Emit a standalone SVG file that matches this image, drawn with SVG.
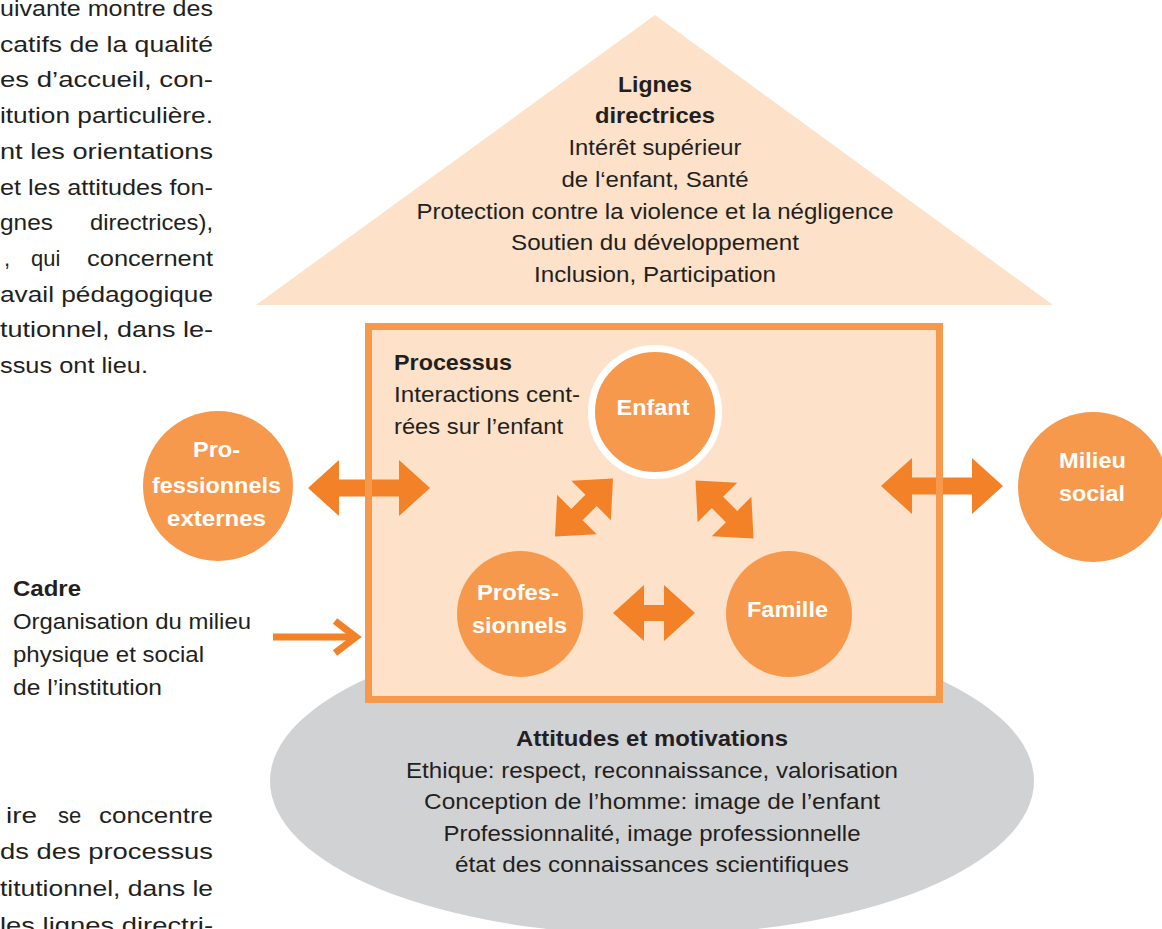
<svg xmlns="http://www.w3.org/2000/svg" width="1162" height="929" viewBox="0 0 1162 929">
  <style>
    .t { font-family: "Liberation Sans", Arial, sans-serif; font-size: 22px; fill: #231f20; }
    .b { font-weight: bold; }
    .m { text-anchor: middle; }
    .e { text-anchor: end; }
    .w { font-family: "Liberation Sans", Arial, sans-serif; font-size: 22px; font-weight: bold; fill: #ffffff; text-anchor: middle; }
    .node { fill: #f7994c; }
    .arr { fill: #f28127; }
  </style>
  <defs>
    <path id="arrLong" d="M-61,0 L-30,-28 L-30,-8.5 L30,-8.5 L30,-28 L61,0 L30,28 L30,8.5 L-30,8.5 L-30,28 Z"/>
    <path id="arrShort" d="M-41,0 L-10,-28 L-10,-8 L10,-8 L10,-28 L41,0 L10,28 L10,8 L-10,8 L-10,28 Z"/>
  </defs>
  <rect width="1162" height="929" fill="#ffffff"/>

  <!-- Left paragraph (top) -->
  <g id="para-top">
    <text class="t" x="0" y="16" textLength="213" lengthAdjust="spacingAndGlyphs">uivante montre des</text>
    <text class="t" x="0" y="51.7" textLength="213" lengthAdjust="spacingAndGlyphs">catifs de la qualité</text>
    <text class="t" x="0" y="87.4" textLength="213" lengthAdjust="spacingAndGlyphs">es d’accueil, con-</text>
    <text class="t" x="0" y="123" textLength="213" lengthAdjust="spacingAndGlyphs">itution particulière.</text>
    <text class="t" x="0" y="158.8" textLength="213" lengthAdjust="spacingAndGlyphs">nt les orientations</text>
    <text class="t" x="0" y="194.5" textLength="213" lengthAdjust="spacingAndGlyphs">et les attitudes fon-</text>
    <text class="t" x="0" y="230" textLength="53" lengthAdjust="spacingAndGlyphs">gnes</text>
    <text class="t" x="90" y="230" textLength="123" lengthAdjust="spacingAndGlyphs">directrices),</text>
    <text class="t" x="4" y="266">,</text>
    <text class="t" x="31" y="266">qui</text>
    <text class="t" x="87" y="266" textLength="126" lengthAdjust="spacingAndGlyphs">concernent</text>
    <text class="t" x="0" y="301.6" textLength="213" lengthAdjust="spacingAndGlyphs">avail pédagogique</text>
    <text class="t" x="0" y="337" textLength="213" lengthAdjust="spacingAndGlyphs">tutionnel, dans le-</text>
    <text class="t" x="0" y="373" textLength="148" lengthAdjust="spacingAndGlyphs">ssus ont lieu.</text>
  </g>

  <!-- Left paragraph (bottom) -->
  <g id="para-bottom">
    <text class="t" x="6" y="823" textLength="31" lengthAdjust="spacingAndGlyphs">ire</text>
    <text class="t" x="58" y="823">se</text>
    <text class="t" x="99" y="823" textLength="114" lengthAdjust="spacingAndGlyphs">concentre</text>
    <text class="t" x="0" y="859" textLength="213" lengthAdjust="spacingAndGlyphs">ds des processus</text>
    <text class="t" x="0" y="896" textLength="213" lengthAdjust="spacingAndGlyphs">titutionnel, dans le</text>
    <text class="t" x="0" y="933" textLength="213" lengthAdjust="spacingAndGlyphs">les lignes directri-</text>
  </g>

  <!-- Attitudes ellipse -->
  <g id="attitudes">
    <ellipse cx="652" cy="781" rx="382" ry="154" fill="#d1d2d4"/>
  </g>

  <!-- Lignes directrices triangle -->
  <g id="lignes-directrices">
    <polygon points="655,15 1053,305 256,305" fill="#fde1c8"/>
    <text class="t b m" x="655" y="91.5" textLength="74" lengthAdjust="spacingAndGlyphs">Lignes</text>
    <text class="t b m" x="655" y="123" textLength="120" lengthAdjust="spacingAndGlyphs">directrices</text>
    <text class="t m" x="655" y="155" textLength="173" lengthAdjust="spacingAndGlyphs">Intérêt supérieur</text>
    <text class="t m" x="655" y="187" textLength="187" lengthAdjust="spacingAndGlyphs">de l‘enfant, Santé</text>
    <text class="t m" x="655" y="218.5" textLength="477" lengthAdjust="spacingAndGlyphs">Protection contre la violence et la négligence</text>
    <text class="t m" x="655" y="250" textLength="288" lengthAdjust="spacingAndGlyphs">Soutien du développement</text>
    <text class="t m" x="655" y="281.5" textLength="242" lengthAdjust="spacingAndGlyphs">Inclusion, Participation</text>
  </g>

  <!-- Processus box fill -->
  <g id="processus">
    <rect x="368.5" y="326.5" width="571" height="373" fill="#fde1c8"/>
    <text class="t b" x="394" y="370" textLength="118" lengthAdjust="spacingAndGlyphs">Processus</text>
    <text class="t" x="394" y="402" textLength="186" lengthAdjust="spacingAndGlyphs">Interactions cent-</text>
    <text class="t" x="394" y="434" textLength="169" lengthAdjust="spacingAndGlyphs">rées sur l’enfant</text>
  </g>

  <!-- Attitudes text (over ellipse) -->
  <g id="attitudes-text">
    <text class="t b m" x="652" y="746" textLength="272" lengthAdjust="spacingAndGlyphs">Attitudes et motivations</text>
    <text class="t m" x="652" y="778" textLength="492" lengthAdjust="spacingAndGlyphs">Ethique: respect, reconnaissance, valorisation</text>
    <text class="t m" x="652" y="809" textLength="456" lengthAdjust="spacingAndGlyphs">Conception de l’homme: image de l’enfant</text>
    <text class="t m" x="652" y="841" textLength="417" lengthAdjust="spacingAndGlyphs">Professionnalité, image professionnelle</text>
    <text class="t m" x="652" y="872" textLength="394" lengthAdjust="spacingAndGlyphs">état des connaissances scientifiques</text>
  </g>

  <!-- Cadre -->
  <g id="cadre">
    <text class="t b" x="13" y="596" textLength="68" lengthAdjust="spacingAndGlyphs">Cadre</text>
    <text class="t" x="13" y="629" textLength="238" lengthAdjust="spacingAndGlyphs">Organisation du milieu</text>
    <text class="t" x="13" y="662" textLength="191" lengthAdjust="spacingAndGlyphs">physique et social</text>
    <text class="t" x="13" y="695" textLength="149" lengthAdjust="spacingAndGlyphs">de l’institution</text>
  </g>

  <!-- Nodes -->
  <g id="enfant">
    <circle cx="655" cy="412" r="63.5" class="node" stroke="#ffffff" stroke-width="7"/>
    <text class="w" x="653" y="415" textLength="73" lengthAdjust="spacingAndGlyphs">Enfant</text>
  </g>
  <g id="professionnels">
    <circle cx="520" cy="614" r="63" class="node"/>
    <text class="w" x="518" y="600" textLength="82" lengthAdjust="spacingAndGlyphs">Profes-</text>
    <text class="w" x="519.5" y="633" textLength="95" lengthAdjust="spacingAndGlyphs">sionnels</text>
  </g>
  <g id="famille">
    <circle cx="789" cy="614" r="63" class="node"/>
    <text class="w" x="787.5" y="617" textLength="81" lengthAdjust="spacingAndGlyphs">Famille</text>
  </g>
  <g id="professionnels-externes">
    <circle cx="218" cy="486" r="75" class="node"/>
    <text class="w" x="216.5" y="457" textLength="47" lengthAdjust="spacingAndGlyphs">Pro-</text>
    <text class="w" x="216.5" y="493" textLength="129" lengthAdjust="spacingAndGlyphs">fessionnels</text>
    <text class="w" x="216.5" y="526" textLength="99" lengthAdjust="spacingAndGlyphs">externes</text>
  </g>
  <g id="milieu-social">
    <circle cx="1093" cy="487" r="75" class="node"/>
    <text class="w" x="1092.5" y="468" textLength="67" lengthAdjust="spacingAndGlyphs">Milieu</text>
    <text class="w" x="1092" y="501" textLength="66" lengthAdjust="spacingAndGlyphs">social</text>
  </g>

  <!-- Connectors -->
  <g id="connectors">
    <use href="#arrLong" class="arr" transform="translate(369,488)"/>
    <use href="#arrLong" class="arr" transform="translate(942,486)"/>
    <use href="#arrShort" class="arr" transform="translate(654,613)"/>
    <use href="#arrShort" class="arr" transform="translate(584,507.5) rotate(-45)"/>
    <use href="#arrShort" class="arr" transform="translate(724.5,509.5) rotate(45)"/>
    <g fill="none" stroke="#f28127" stroke-width="7">
      <line x1="273" y1="637" x2="353" y2="637"/>
      <polyline points="335,621 356,637 335,653" stroke-linejoin="miter"/>
    </g>
  </g>

  <!-- Processus box border (drawn over arrows) -->
  <g id="processus-border">
    <rect x="368.5" y="326.5" width="571" height="373" fill="none" stroke="#f7994c" stroke-width="7"/>
  </g>
</svg>
